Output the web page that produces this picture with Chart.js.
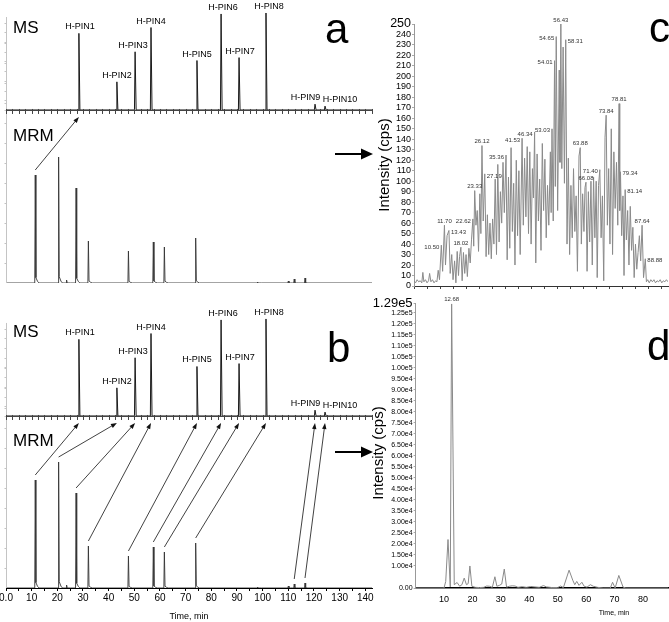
<!DOCTYPE html>
<html>
<head>
<meta charset="utf-8">
<script src="https://cdn.jsdelivr.net/npm/chart.js@4.4.1/dist/chart.umd.min.js"></script>
<style>
  html, body { margin: 0; padding: 0; background: #fff; }
  body { width: 669px; height: 622px; position: relative; overflow: hidden; }
  .box { position: absolute; }
</style>
</head>
<body>
<div class="box" style="left:0;top:0;width:376px;height:292px"><canvas id="panel-a"></canvas></div>
<div class="box" style="left:-6px;top:305px;width:382px;height:317px"><canvas id="panel-b"></canvas></div>
<div class="box" style="left:360px;top:0;width:309px;height:300px"><canvas id="panel-c"></canvas></div>
<div class="box" style="left:360px;top:295px;width:309px;height:327px"><canvas id="panel-d"></canvas></div>
<script>
const FONT = '"Liberation Sans", Arial, sans-serif';
Chart.defaults.font.family = FONT;
Chart.defaults.color = '#000';

/* a, b : MS / MRM 데이터 */
const msNames = ['H-PIN1', 'H-PIN2', 'H-PIN3', 'H-PIN4', 'H-PIN5', 'H-PIN6', 'H-PIN7', 'H-PIN8', 'H-PIN9', 'H-PIN10'];
const msTimes = [28.4, 43.2, 50.3, 56.5, 74.4, 83.8, 90.8, 101.3, 120.4, 124.3];
const msHeights = [79, 29, 60, 85, 51, 99, 54, 100, 6, 4];
const mrmTimes = [11.4, 20.5, 23.6, 27.3, 32.1, 47.7, 57.4, 61.7, 73.9, 98.0, 110.0, 112.3, 116.5];
const mrmHeights = [108, 126, 3, 95, 42, 32, 41, 36, 45, 1, 2, 4, 5];
const leftXTicks = [0, 5, 10, 15, 20, 25, 30, 35, 40, 45, 50, 55, 60, 65, 70, 75, 80, 85, 90, 95, 100, 105, 110, 115, 120, 125, 130, 135, 140];
// [MS 피크 번호, MRM 피크 번호]
const arrowsA = [[0, 0]];
const arrowsB = [[0, 0], [1, 1], [2, 3], [3, 4], [4, 5], [5, 6], [6, 7], [7, 8], [8, 11], [9, 12]];

/* c 데이터 */
const cTimes = [
  0.0, 0.6, 1.2, 1.8, 2.4, 3.0, 3.4, 3.8, 4.4, 5.0, 5.6, 6.0, 6.5, 7.1, 7.7, 8.3, 8.8, 9.3, 9.8,
  10.50, 11.0, 11.70, 12.1, 12.7, 13.43, 13.9, 14.5, 15.0, 15.6, 16.1, 16.6, 17.1, 17.5, 18.02, 18.5, 19.0, 19.5, 20.0, 20.5,
  21.1, 21.6, 22.1, 22.62, 22.95, 23.33, 23.8, 24.3, 24.8, 25.3, 25.7, 26.12, 26.6, 27.19, 27.7, 28.2, 28.7, 29.2, 29.7, 30.2, 30.7,
  31.2, 31.7, 32.2, 32.7, 33.2, 33.7, 34.2, 34.7, 35.36, 35.8, 36.3, 36.8, 37.3, 37.8, 38.3, 38.8, 39.3, 39.8, 40.3, 40.8,
  41.53, 42.0, 42.5, 43.0, 43.5, 44.0, 44.5, 45.0, 45.5, 45.9, 46.34, 46.8, 47.3, 47.8, 48.3, 48.8, 49.3, 49.8, 50.3, 50.8,
  51.3, 51.8, 52.4, 52.7, 53.03, 53.5, 54.01, 54.3, 54.65, 55.2, 55.8, 56.1, 56.43, 56.8, 57.3, 57.8, 58.31, 58.8, 59.3, 59.8, 60.3, 60.8,
  61.3, 61.8, 62.3, 62.8, 63.4, 63.88, 64.3, 64.8, 65.3, 65.7, 66.08, 66.5, 67.0, 67.5, 68.0, 68.5, 69.0, 69.5, 70.0, 70.4,
  70.9, 71.40, 71.9, 72.4, 72.9, 73.4, 73.84, 74.3, 74.8, 75.3, 75.8, 76.3, 76.8, 77.3, 77.8, 78.3, 78.81, 79.05, 79.34, 79.8, 80.3, 80.7,
  81.14, 81.6, 82.1, 82.6, 83.1, 83.6, 84.1, 84.6, 85.1, 85.6, 86.1, 86.6, 87.1, 87.64, 88.2, 88.88, 89.3,
  89.8, 90.4, 91.0, 91.6, 92.2, 92.8, 93.4, 94.0, 94.6, 95.2, 95.8, 96.4, 97.0, 97.6
];
const cValues = [
  5, 3, 6, 4, 5, 3, 13, 4, 6, 3, 5, 12, 4, 6, 3, 5, 4, 15, 6,
  39, 14, 58, 20, 48, 53, 12, 30, 6, 24, 3, 33, 10, 28, 37, 5, 32, 12, 30, 9,
  36, 22, 44, 64, 38, 91, 58, 72, 33, 88, 50, 134, 62, 107, 28, 68, 30, 60, 26, 64, 40,
  102, 30, 116, 42, 90, 60, 118, 70, 125, 25, 104, 36, 132, 52, 98, 20, 120, 48, 110, 30,
  141, 58, 122, 66, 133, 50, 128, 40, 112, 84, 147, 22, 126, 62, 102, 34, 136, 72, 121, 46,
  96, 58, 128, 70, 150, 62, 215, 95, 238, 72, 206, 118, 250, 112, 228, 98, 235, 40, 122, 30, 96, 46,
  112, 52, 86, 14, 124, 132, 40, 88, 52, 94, 99, 14, 90, 42, 100, 20, 104, 46, 100, 8,
  96, 111, 46, 86, 5, 142, 163, 58, 112, 40, 150, 30, 128, 74, 118, 58, 174, 72, 109, 48, 86, 10,
  92, 44, 72, 20, 76, 34, 56, 8, 40, 16, 32, 48, 24, 58, 8, 26, 4,
  6, 3, 6, 4, 6, 3, 5, 4, 6, 3, 5, 4, 6, 4
];
const cLabels = ['10.50', '11.70', '13.43', '18.02', '22.62', '23.33', '26.12', '27.19', '35.36', '41.53', '46.34', '53.03', '54.01',
  '54.65', '56.43', '58.31', '63.88', '66.08', '71.40', '73.84', '78.81', '79.34', '81.14', '87.64', '88.88'];
const cLabelAlign = ['left', 'center', 'right', 'center', 'left', 'center', 'center', 'right', 'left', 'left', 'left', 'left', 'left',
  'left', 'center', 'right', 'center', 'center', 'left', 'center', 'center', 'right', 'right', 'center', 'right'];
const cXTicks = [0, 5, 10, 15, 20, 25, 30, 35, 40, 45, 50, 55, 60, 65, 70, 75, 80, 85, 90, 95];
const cYTicks = [0, 10, 20, 30, 40, 50, 60, 70, 80, 90, 100, 110, 120, 130, 140, 150, 160, 170, 180, 190, 200, 210, 220, 230, 240, 250];

/* d 데이터 */
const dTimes = [0, 10.0, 10.6, 11.4, 12.2, 12.68, 13.6, 14.6, 15.5, 16.3,
  17.1, 17.9, 18.5, 19.1, 19.8, 21.0, 22.5, 24.0, 25.0, 26.0,
  27.0, 27.9, 28.6, 29.5, 30.3, 31.2, 32.0, 33.0, 34.0, 35.0,
  36.0, 37.5, 39.0, 40.5, 42.0, 43.5, 45.0, 46.0, 48.0, 50.0,
  51.0, 52.0, 54.0, 55.3, 56.0, 56.7, 57.5, 58.5, 59.3, 60.3,
  61.5, 62.5, 64.0, 66.0, 68.5, 69.3, 70.2, 71.5, 73.0, 74.0, 88.8];
const dValues = [0, 0, 3000, 22000, 500, 129000, 1500, 2500, 800, 1500,
  4500, 1500, 2000, 10000, 800, 300, 200, 300, 900, 800,
  300, 5100, 800, 1200, 1800, 8600, 400, 800, 1000, 900,
  300, 600, 300, 700, 500, 300, 1100, 500, 200, 200,
  900, 200, 8100, 3500, 1500, 3000, 1200, 2600, 800, 400,
  1500, 800, 300, 0, 0, 2600, 0, 5700, 400, 0, 0];
const dLabel = '12.68';
const dXTicks = [10, 20, 30, 40, 50, 60, 70, 80];
const dYTicks = [0, 10000, 15000, 20000, 25000, 30000, 35000, 40000, 45000, 50000, 55000, 60000, 65000,
  70000, 75000, 80000, 85000, 90000, 95000, 100000, 105000, 110000, 115000, 120000, 125000, 129000];

// 라벨 위치 보정 (스타일)
const msLabelDx = [1, 0, -2, 0, 0, 2, 1, 3, -9.5, 15];

const fixTicks = (values) => (scale) => { scale.ticks = values.map(v => ({ value: v })); };

const msTrace = (xmax) => {
  const pts = [{ x: 0, y: 0 }];
  msTimes.forEach((t, i) => {
    pts.push({ x: t - 0.25, y: 0 }, { x: t, y: msHeights[i] }, { x: t + 0.4, y: 0 });
  });
  pts.push({ x: xmax, y: 0 });
  return pts;
};
const mrmTrace = (xmax) => {
  const pts = [{ x: 0, y: 0 }];
  mrmTimes.forEach((t, i) => {
    const h = mrmHeights[i];
    pts.push({ x: t - 0.2, y: 0 }, { x: t, y: h }, { x: t + 0.25, y: h * 0.05 }, { x: t + 0.9, y: h * 0.015 }, { x: t + 1.5, y: 0 });
  });
  pts.push({ x: xmax, y: 0 });
  return pts;
};

const drawArrow = (ctx, x1, y1, x2, y2, len, half) => {
  const a = Math.atan2(y2 - y1, x2 - x1);
  const c = Math.cos(a), s = Math.sin(a);
  ctx.beginPath();
  ctx.moveTo(x1, y1);
  ctx.lineTo(x2 - c * len * 0.8, y2 - s * len * 0.8);
  ctx.stroke();
  ctx.beginPath();
  ctx.moveTo(x2, y2);
  ctx.lineTo(x2 - c * len - s * half, y2 - s * len + c * half);
  ctx.lineTo(x2 - c * len + s * half, y2 - s * len - c * half);
  ctx.closePath();
  ctx.fill();
};

const rotatedText = (ctx, text, x, y, font) => {
  ctx.save();
  ctx.translate(x, y);
  ctx.rotate(-Math.PI / 2);
  ctx.font = font;
  ctx.textAlign = 'center';
  ctx.textBaseline = 'middle';
  ctx.fillText(text, 0, 0);
  ctx.restore();
};

/* a, b 패널 플러그인 */
const leftPanelPlugin = {
  id: 'leftPanel',
  afterDatasetsDraw(chart, args, o) {
    const { ctx, chartArea, scales } = chart;
    const x = scales.x, yMS = scales.yMS, yMRM = scales.yMRM;
    const y0 = yMS.getPixelForValue(0);
    ctx.save();

    // 희미한 세로축
    ctx.strokeStyle = '#c4c4c4';
    ctx.lineWidth = 1;
    ctx.beginPath();
    const ax = chartArea.left + 0.5;
    ctx.moveTo(ax, yMS.getPixelForValue(100) + 4);
    ctx.lineTo(ax, chartArea.bottom);
    for (let v = 0; v <= 90; v += 10) {
      const py = Math.round(yMS.getPixelForValue(v)) + 0.5;
      ctx.moveTo(ax - 2, py); ctx.lineTo(ax, py);
    }
    for (let v = 20; v < yMRM.max - 40; v += 20) {
      const py = Math.round(yMRM.getPixelForValue(v)) + 0.5;
      ctx.moveTo(ax - 2, py); ctx.lineTo(ax, py);
    }
    ctx.stroke();

    // MS 기준축
    ctx.strokeStyle = '#444';
    ctx.beginPath();
    ctx.moveTo(chartArea.left, Math.round(y0) + 0.5);
    ctx.lineTo(chartArea.right, Math.round(y0) + 0.5);
    for (let t = 0; t <= x.max; t += 2.5) {
      const px = Math.round(x.getPixelForValue(t)) + 0.5;
      ctx.moveTo(px, y0 - 1);
      ctx.lineTo(px, y0 + 4);
    }
    ctx.stroke();

    // 피크 이름
    ctx.fillStyle = '#000';
    ctx.font = '9px ' + FONT;
    ctx.textAlign = 'center';
    ctx.textBaseline = 'bottom';
    msNames.forEach((n, i) => {
      const px = x.getPixelForValue(msTimes[i]) + msLabelDx[i];
      const py = yMS.getPixelForValue(msHeights[i]) - 2;
      ctx.fillText(n, px, py);
    });

    // MRM → MS 화살표
    ctx.strokeStyle = '#111';
    ctx.fillStyle = '#111';
    ctx.lineWidth = 0.8;
    o.arrows.forEach(([mi, ri]) => {
      const x1 = x.getPixelForValue(mrmTimes[ri]);
      const y1 = yMRM.getPixelForValue(mrmHeights[ri]) - 5;
      const x2 = x.getPixelForValue(msTimes[mi]);
      const y2 = y0 + 7;
      drawArrow(ctx, x1, y1, x2, y2, 6, 2.2);
    });

    // 글자
    ctx.fillStyle = '#000';
    ctx.textAlign = 'left';
    ctx.textBaseline = 'alphabetic';
    ctx.font = '17px ' + FONT;
    ctx.fillText('MS', 13 - o.ox, o.msY - o.oy);
    ctx.fillText('MRM', 13 - o.ox, o.mrmY - o.oy);
    ctx.font = '42px ' + FONT;
    ctx.fillText(o.letter, o.letterX - o.ox, o.letterY - o.oy);

    // 오른쪽 큰 화살표
    ctx.strokeStyle = '#000';
    ctx.fillStyle = '#000';
    ctx.lineWidth = 2;
    drawArrow(ctx, 335 - o.ox, o.bigArrowY - o.oy, 373 - o.ox, o.bigArrowY - o.oy, 12, 5.5);
    ctx.restore();
  }
};

const createLeftChart = (id, cfg) => new Chart(document.getElementById(id), {
  type: 'line',
  data: {
    datasets: [
      { data: msTrace(142.6), yAxisID: 'yMS', borderColor: '#1a1a1a', borderWidth: 1, pointRadius: 0, tension: 0 },
      { data: mrmTrace(142.6), yAxisID: 'yMRM', borderColor: '#333', borderWidth: 0.9, pointRadius: 0, tension: 0 }
    ]
  },
  options: {
    responsive: true,
    maintainAspectRatio: false,
    animation: false,
    layout: { padding: cfg.padding },
    plugins: { legend: { display: false }, tooltip: { enabled: false }, leftPanel: cfg.plugin },
    scales: {
      x: cfg.showX ? {
        type: 'linear', min: 0, max: 142.6,
        afterBuildTicks: fixTicks(leftXTicks),
        afterFit: (s) => { s.height = 34; },
        grid: { display: true, drawOnChartArea: false, tickLength: 3, color: '#000' },
        border: { display: true, color: '#000' },
        ticks: { autoSkip: false, maxRotation: 0, padding: 1, font: { size: 10 }, color: '#000',
          callback: (v) => v === 0 ? '0.0' : (v % 10 === 0 ? String(v) : '') },
        title: { display: true, text: 'Time, min', font: { size: 9 }, color: '#000', padding: { top: 0, bottom: 0 } }
      } : { type: 'linear', min: 0, max: 142.6, display: false },
      yMS: { type: 'linear', min: cfg.msMin, max: cfg.msMax, display: false },
      yMRM: { type: 'linear', min: 0, max: cfg.mrmMax, display: false }
    }
  },
  plugins: [leftPanelPlugin]
});

createLeftChart('panel-a', {
  padding: { left: 6, right: 4, top: 0, bottom: 9 },
  showX: false, msMin: -178.4, msMax: 113.4, mrmMax: 283,
  plugin: { ox: 0, oy: 0, arrows: arrowsA, letter: 'a', letterX: 325, letterY: 43, msY: 33, mrmY: 141, bigArrowY: 154 }
});
createLeftChart('panel-b', {
  padding: { left: 12, right: 4, top: 3, bottom: 0 },
  showX: true, msMin: -177.3, msMax: 111.3, mrmMax: 280,
  plugin: { ox: -6, oy: 305, arrows: arrowsB, letter: 'b', letterX: 327, letterY: 362, msY: 337, mrmY: 446, bigArrowY: 452 }
});

/* c 패널 */
const cPlugin = {
  id: 'cPanel',
  afterDatasetsDraw(chart) {
    const { ctx, scales } = chart;
    ctx.save();
    ctx.fillStyle = '#333';
    ctx.font = '6px ' + FONT;
    cLabels.forEach((lab, i) => {
      const idx = cTimes.indexOf(parseFloat(lab));
      if (idx < 0) return;
      const px = scales.x.getPixelForValue(cTimes[idx]);
      const py = scales.y.getPixelForValue(cValues[idx]);
      const al = cLabelAlign[i];
      if (al === 'center') {
        ctx.textAlign = 'center'; ctx.textBaseline = 'bottom';
        ctx.fillText(lab, px, py - 1);
      } else if (al === 'left') {
        ctx.textAlign = 'right'; ctx.textBaseline = 'middle';
        ctx.fillText(lab, px - 2, py + 2);
      } else {
        ctx.textAlign = 'left'; ctx.textBaseline = 'middle';
        ctx.fillText(lab, px + 2, py + 2);
      }
    });
    ctx.fillStyle = '#000';
    rotatedText(ctx, 'Intensity (cps)', 25, 165, '15px ' + FONT);
    ctx.textAlign = 'left';
    ctx.textBaseline = 'alphabetic';
    ctx.font = '42px ' + FONT;
    ctx.fillText('c', 649 - 360, 42);
    ctx.restore();
  }
};

new Chart(document.getElementById('panel-c'), {
  type: 'line',
  data: {
    datasets: [{
      data: cTimes.map((t, i) => ({ x: t, y: cValues[i] })),
      borderColor: '#8a8a8a', borderWidth: 1, pointRadius: 0, tension: 0
    }]
  },
  options: {
    responsive: true,
    maintainAspectRatio: false,
    animation: false,
    layout: { padding: { left: 0, right: 1, top: 24, bottom: 0 } },
    plugins: { legend: { display: false }, tooltip: { enabled: false } },
    scales: {
      x: {
        type: 'linear', min: 0, max: 97.6,
        afterBuildTicks: fixTicks(cXTicks),
        afterFit: (s) => { s.height = 14; },
        grid: { display: true, drawOnChartArea: false, tickLength: 3, color: '#444' },
        border: { display: true, color: '#333' },
        ticks: { display: false }
      },
      y: {
        type: 'linear', min: 0, max: 250,
        afterBuildTicks: fixTicks(cYTicks),
        afterFit: (s) => { s.width = 54; },
        grid: { display: true, drawOnChartArea: false, tickLength: 2, color: '#aaa' },
        border: { display: true, color: '#999' },
        ticks: {
          autoSkip: false, padding: 1, color: '#000',
          font: (c) => (c.tick && c.tick.value === 250) ? { size: 12.5 } : { size: 9 }
        }
      }
    }
  },
  plugins: [cPlugin]
});

/* d 패널 */
const dPlugin = {
  id: 'dPanel',
  afterDatasetsDraw(chart) {
    const { ctx, scales } = chart;
    ctx.save();
    const idx = dTimes.indexOf(parseFloat(dLabel));
    const px = scales.x.getPixelForValue(dTimes[idx]);
    const py = scales.y.getPixelForValue(dValues[idx]);
    ctx.fillStyle = '#333';
    ctx.font = '6px ' + FONT;
    ctx.textAlign = 'center';
    ctx.textBaseline = 'bottom';
    ctx.fillText(dLabel, px, py - 1);
    ctx.fillStyle = '#000';
    rotatedText(ctx, 'Intensity (cps)', 379 - 360, 453 - 295, '15px ' + FONT);
    ctx.font = '7px ' + FONT;
    ctx.textAlign = 'center';
    ctx.textBaseline = 'middle';
    ctx.fillText('Time, min', 614 - 360, 613 - 295);
    ctx.textAlign = 'left';
    ctx.textBaseline = 'alphabetic';
    ctx.font = '42px ' + FONT;
    ctx.fillText('d', 647 - 360, 360 - 295);
    ctx.restore();
  }
};

new Chart(document.getElementById('panel-d'), {
  type: 'line',
  data: {
    datasets: [{
      data: dTimes.map((t, i) => ({ x: t, y: dValues[i] })),
      borderColor: '#8a8a8a', borderWidth: 1, pointRadius: 0, tension: 0
    }]
  },
  options: {
    responsive: true,
    maintainAspectRatio: false,
    animation: false,
    layout: { padding: { left: 0, right: 1, top: 8, bottom: 0 } },
    plugins: { legend: { display: false }, tooltip: { enabled: false } },
    scales: {
      x: {
        type: 'linear', min: 0, max: 88.8,
        afterBuildTicks: fixTicks(dXTicks),
        afterFit: (s) => { s.height = 34; },
        grid: { display: false, drawTicks: false },
        border: { display: true, color: '#000', width: 1.5 },
        ticks: { autoSkip: false, maxRotation: 0, padding: 6, font: { size: 9 }, color: '#000' }
      },
      y: {
        type: 'linear', min: 0, max: 129000,
        afterBuildTicks: fixTicks(dYTicks),
        afterFit: (s) => { s.width = 55.6; },
        grid: { display: true, drawOnChartArea: false, tickLength: 2, color: '#aaa' },
        border: { display: true, color: '#999' },
        ticks: {
          autoSkip: false, padding: 1, color: '#000',
          font: (c) => (c.tick && c.tick.value === 129000) ? { size: 13 } : { size: 7 },
          callback: (v) => v === 0 ? '0.00' : v.toExponential(2).replace('e+', 'e')
        }
      }
    }
  },
  plugins: [dPlugin]
});
</script>
</body>
</html>
